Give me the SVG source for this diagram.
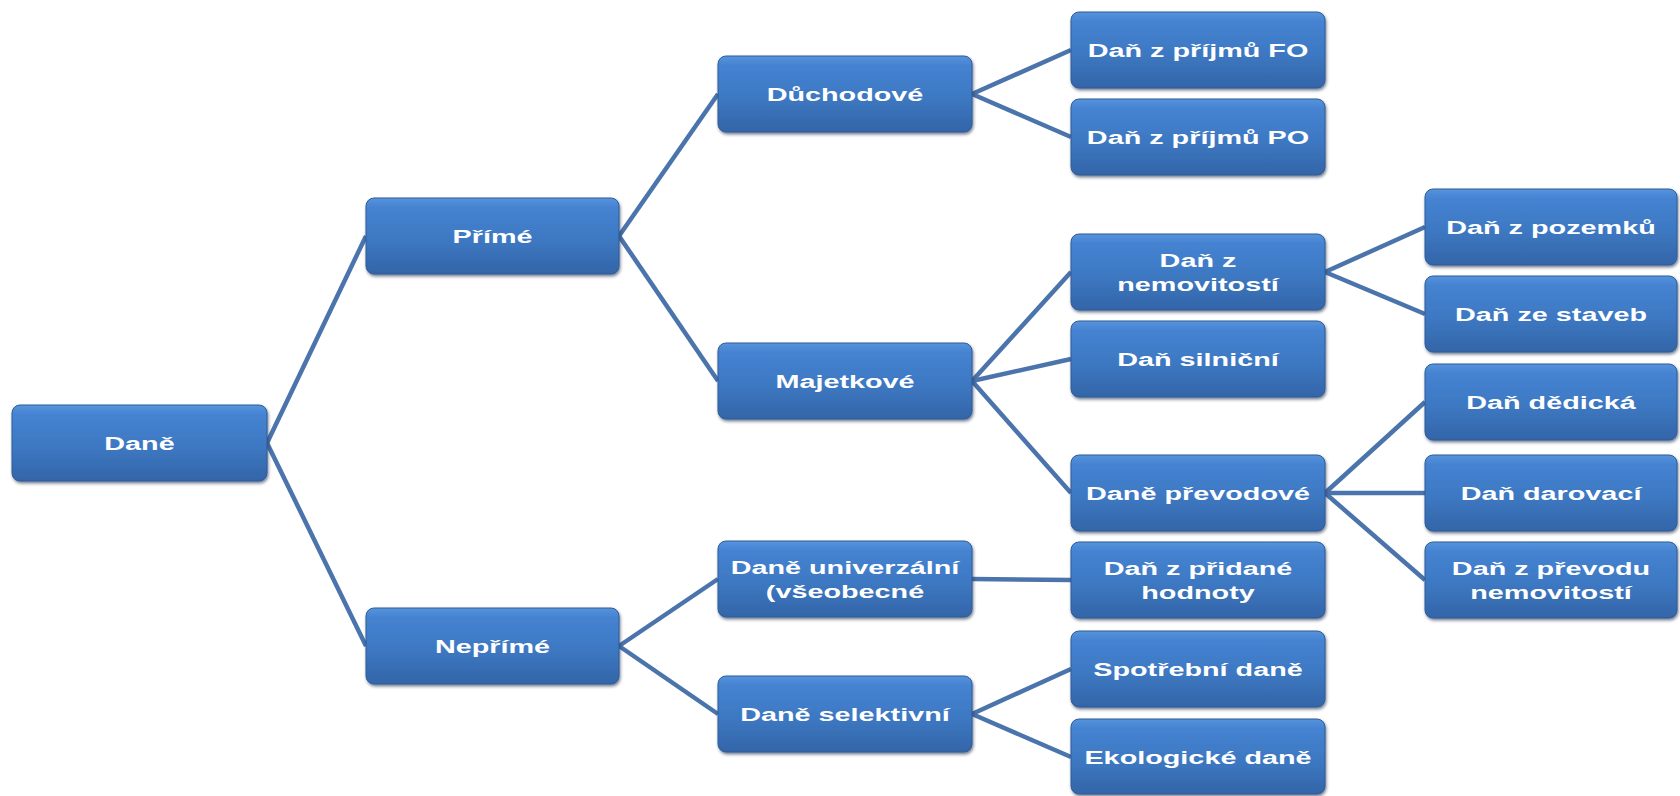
<svg xmlns="http://www.w3.org/2000/svg" width="1680" height="796" viewBox="0 0 1680 796">
<style>
.box{fill:url(#g);stroke:#2f5d97;stroke-width:1;filter:url(#sh)}
.t{font-family:"Liberation Sans",Arial,sans-serif;font-weight:bold;font-size:18px;fill:#ffffff;text-anchor:middle}
.c{stroke:#4a74ab;stroke-width:4.5;fill:none;stroke-linecap:butt}
</style>
<defs>
<linearGradient id="g" x1="0" y1="0" x2="0" y2="1">
<stop offset="0" stop-color="#5894dc"/>
<stop offset="0.12" stop-color="#4583d2"/>
<stop offset="0.55" stop-color="#3d78c2"/>
<stop offset="1" stop-color="#3365a8"/>
</linearGradient>
<filter id="sh" x="-5%" y="-10%" width="112%" height="130%">
<feDropShadow dx="1" dy="2" stdDeviation="1.5" flood-color="#1a2f50" flood-opacity="0.6"/>
</filter>
</defs>
<rect width="1680" height="796" fill="#ffffff"/>
<g id="connectors">
<line class="c" x1="267" y1="443" x2="366" y2="236"/>
<line class="c" x1="267" y1="443" x2="366" y2="646"/>
<line class="c" x1="619" y1="236" x2="718" y2="94"/>
<line class="c" x1="619" y1="236" x2="718" y2="381"/>
<line class="c" x1="619" y1="646" x2="718" y2="579"/>
<line class="c" x1="619" y1="646" x2="718" y2="714"/>
<line class="c" x1="972" y1="94" x2="1071" y2="50"/>
<line class="c" x1="972" y1="94" x2="1071" y2="137"/>
<line class="c" x1="972" y1="381" x2="1071" y2="272"/>
<line class="c" x1="972" y1="381" x2="1071" y2="359"/>
<line class="c" x1="972" y1="381" x2="1071" y2="493"/>
<line class="c" x1="972" y1="579" x2="1071" y2="580"/>
<line class="c" x1="972" y1="714" x2="1071" y2="669"/>
<line class="c" x1="972" y1="714" x2="1071" y2="757"/>
<line class="c" x1="1325" y1="272" x2="1425" y2="227"/>
<line class="c" x1="1325" y1="272" x2="1425" y2="314"/>
<line class="c" x1="1325" y1="493" x2="1425" y2="402"/>
<line class="c" x1="1325" y1="493" x2="1425" y2="493"/>
<line class="c" x1="1325" y1="493" x2="1425" y2="580"/>
</g>
<g id="n-dane"><rect class="box" x="12" y="405" width="255" height="76" rx="8"/><text class="t" transform="translate(139.5,443) scale(1.6,1)" y="6.5">Daně</text></g>
<g id="n-prime"><rect class="box" x="366" y="198" width="253" height="76" rx="8"/><text class="t" transform="translate(492.5,236) scale(1.6,1)" y="6.5">Přímé</text></g>
<g id="n-neprime"><rect class="box" x="366" y="608" width="253" height="76" rx="8"/><text class="t" transform="translate(492.5,646) scale(1.6,1)" y="6.5">Nepřímé</text></g>
<g id="n-duchodove"><rect class="box" x="718" y="56" width="254" height="76" rx="8"/><text class="t" transform="translate(845,94) scale(1.6,1)" y="6.5">Důchodové</text></g>
<g id="n-majetkove"><rect class="box" x="718" y="343" width="254" height="76" rx="8"/><text class="t" transform="translate(845,381) scale(1.6,1)" y="6.5">Majetkové</text></g>
<g id="n-univerzalni"><rect class="box" x="718" y="541" width="254" height="76" rx="8"/><text class="t" transform="translate(845,579) scale(1.6,1)"><tspan x="0" y="-5.5">Daně univerzální</tspan><tspan x="0" y="19">(všeobecné</tspan></text></g>
<g id="n-selektivni"><rect class="box" x="718" y="676" width="254" height="76" rx="8"/><text class="t" transform="translate(845,714) scale(1.6,1)" y="6.5">Daně selektivní</text></g>
<g id="n-fo"><rect class="box" x="1071" y="12" width="254" height="76" rx="8"/><text class="t" transform="translate(1198,50) scale(1.6,1)" y="6.5">Daň z příjmů FO</text></g>
<g id="n-po"><rect class="box" x="1071" y="99" width="254" height="76" rx="8"/><text class="t" transform="translate(1198,137) scale(1.6,1)" y="6.5">Daň z příjmů PO</text></g>
<g id="n-nemovitosti"><rect class="box" x="1071" y="234" width="254" height="76" rx="8"/><text class="t" transform="translate(1198,272) scale(1.6,1)"><tspan x="0" y="-5.5">Daň z</tspan><tspan x="0" y="19">nemovitostí</tspan></text></g>
<g id="n-silnicni"><rect class="box" x="1071" y="321" width="254" height="76" rx="8"/><text class="t" transform="translate(1198,359) scale(1.6,1)" y="6.5">Daň silniční</text></g>
<g id="n-prevodove"><rect class="box" x="1071" y="455" width="254" height="76" rx="8"/><text class="t" transform="translate(1198,493) scale(1.6,1)" y="6.5">Daně převodové</text></g>
<g id="n-dph"><rect class="box" x="1071" y="542" width="254" height="76" rx="8"/><text class="t" transform="translate(1198,580) scale(1.6,1)"><tspan x="0" y="-5.5">Daň z přidané</tspan><tspan x="0" y="19">hodnoty</tspan></text></g>
<g id="n-spotrebni"><rect class="box" x="1071" y="631" width="254" height="76" rx="8"/><text class="t" transform="translate(1198,669) scale(1.6,1)" y="6.5">Spotřební daně</text></g>
<g id="n-ekologicke"><rect class="box" x="1071" y="719" width="254" height="75" rx="8"/><text class="t" transform="translate(1198,757) scale(1.6,1)" y="6.5">Ekologické daně</text></g>
<g id="n-pozemku"><rect class="box" x="1425" y="189" width="252" height="76" rx="8"/><text class="t" transform="translate(1551,227) scale(1.6,1)" y="6.5">Daň z pozemků</text></g>
<g id="n-staveb"><rect class="box" x="1425" y="276" width="252" height="76" rx="8"/><text class="t" transform="translate(1551,314) scale(1.6,1)" y="6.5">Daň ze staveb</text></g>
<g id="n-dedicka"><rect class="box" x="1425" y="364" width="252" height="76" rx="8"/><text class="t" transform="translate(1551,402) scale(1.6,1)" y="6.5">Daň dědická</text></g>
<g id="n-darovaci"><rect class="box" x="1425" y="455" width="252" height="76" rx="8"/><text class="t" transform="translate(1551,493) scale(1.6,1)" y="6.5">Daň darovací</text></g>
<g id="n-prevodu"><rect class="box" x="1425" y="542" width="252" height="76" rx="8"/><text class="t" transform="translate(1551,580) scale(1.6,1)"><tspan x="0" y="-5.5">Daň z převodu</tspan><tspan x="0" y="19">nemovitostí</tspan></text></g>
</svg>
